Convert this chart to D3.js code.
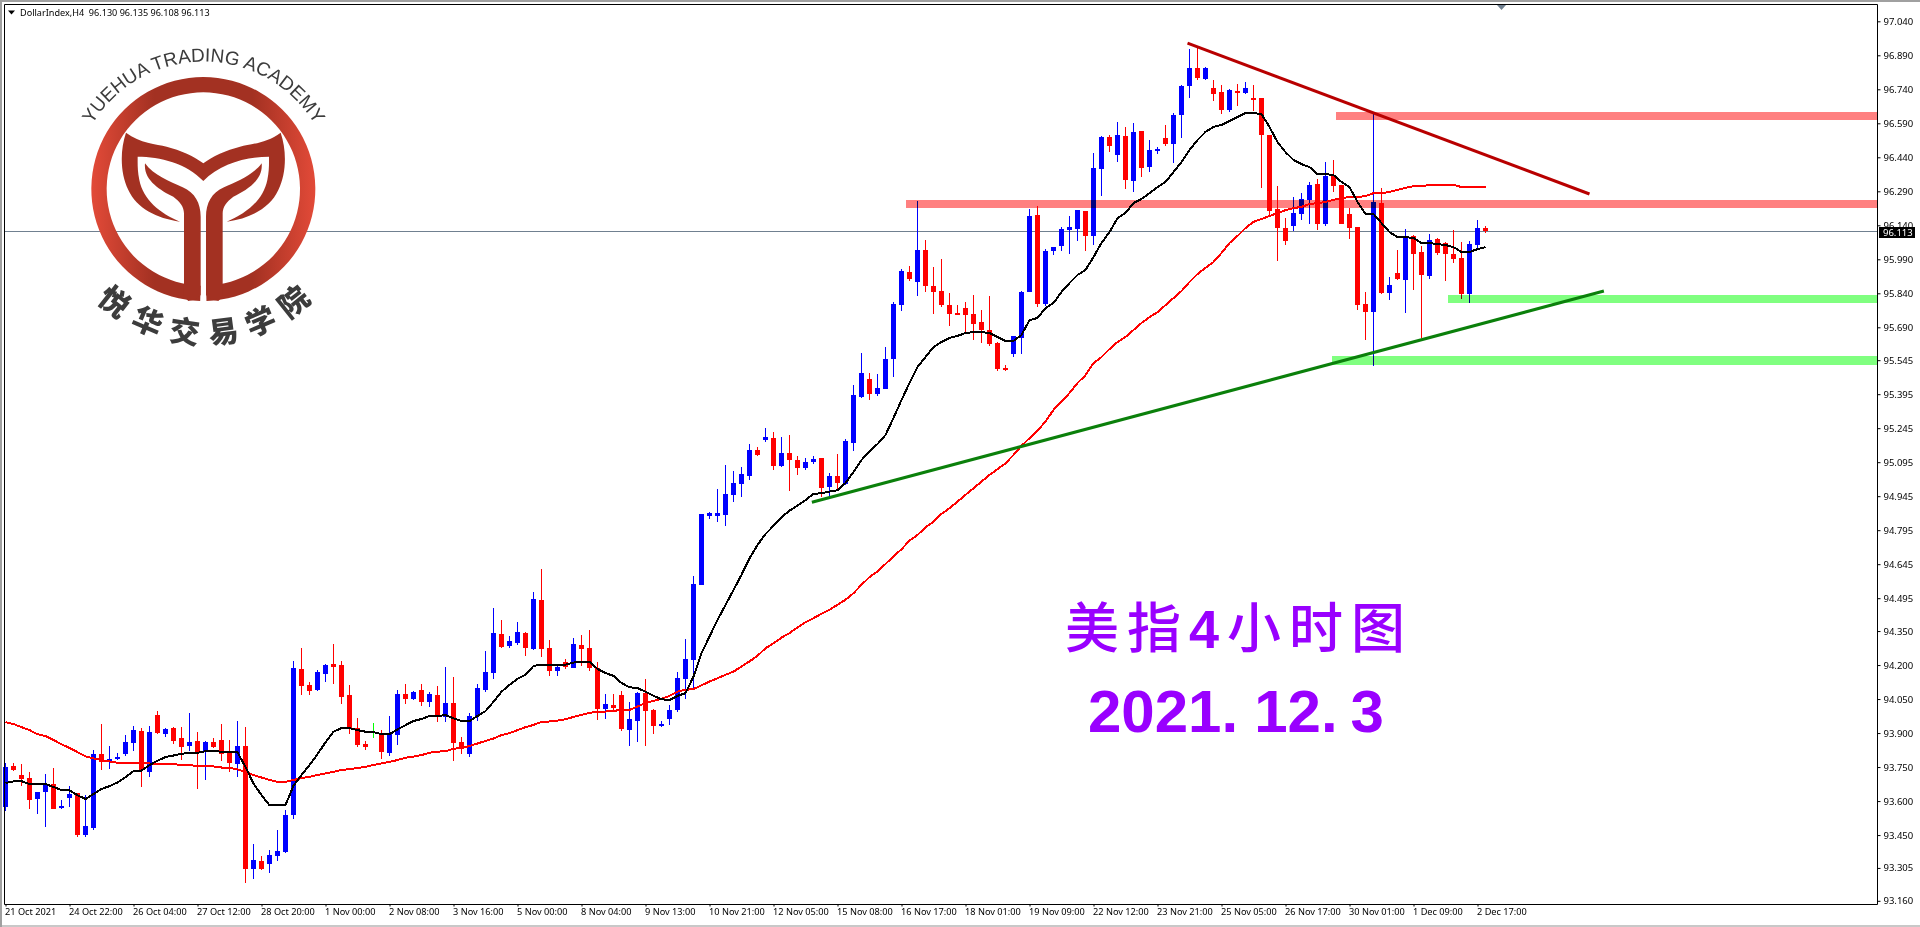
<!DOCTYPE html>
<html><head><meta charset="utf-8">
<script src="https://cdn.jsdelivr.net/npm/d3@7"></script>
<style>
html,body{margin:0;padding:0;background:#fff;overflow:hidden}
svg{display:block;background:#fff;isolation:isolate}
.tick text,.lbl{font-family:"Noto Sans","Open Sans",sans-serif;font-size:9.5px;fill:#000}
.xt .tick text{font-size:9.2px}
.lbl.hd{font-size:9.1px}
</style></head><body>
<svg id="c" width="1920" height="927"></svg>
<script>
const open=[
93.575,93.754,93.715,93.701,93.609,93.640,93.675,93.569,93.613,93.635,
93.450,93.481,93.807,93.772,93.785,93.807,93.856,93.909,93.728,93.979,
93.895,93.922,93.878,93.843,93.865,93.820,93.860,93.869,93.812,93.763,
93.843,93.300,93.335,93.322,93.357,93.375,93.538,94.182,94.112,94.090,
94.160,94.204,94.200,94.067,93.922,93.851,93.904,93.895,93.812,93.891,
94.072,94.050,94.090,94.037,94.067,93.970,94.032,93.860,93.807,93.975,
94.090,94.165,94.337,94.285,94.298,94.342,94.271,94.487,94.276,94.174,
94.214,94.188,94.289,94.276,94.188,94.007,94.024,94.069,93.914,93.954,
94.077,94.002,93.932,93.963,94.002,94.139,94.223,94.554,94.857,94.857,
94.862,94.950,94.999,95.034,95.148,95.193,95.201,95.078,95.135,95.104,
95.069,95.096,95.113,94.985,95.034,94.999,95.180,95.383,95.462,95.396,
95.418,95.551,95.789,95.935,95.890,96.031,95.873,95.851,95.789,95.754,
95.776,95.749,95.714,95.679,95.621,95.511,95.573,95.643,95.846,96.186,
95.793,96.027,96.049,96.120,96.124,96.203,96.093,96.389,96.530,96.450,
96.534,96.336,96.556,96.398,96.473,96.525,96.499,96.627,96.755,96.834,
96.786,96.746,96.729,96.649,96.733,96.724,96.702,96.702,96.539,96.213,
96.129,96.138,96.191,96.252,96.323,96.146,96.363,96.318,96.191,96.133,
95.794,95.758,96.239,95.842,95.930,95.900,96.094,96.023,95.917,96.080,
96.063,96.014,95.997,95.838,96.054,96.130];
const close=[
93.750,93.737,93.697,93.604,93.640,93.675,93.565,93.578,93.631,93.450,
93.490,93.807,93.772,93.785,93.794,93.860,93.913,93.737,93.904,93.900,
93.918,93.865,93.838,93.860,93.816,93.860,93.838,93.807,93.768,93.843,
93.300,93.340,93.300,93.362,93.379,93.538,94.187,94.107,94.085,94.169,
94.200,94.191,94.059,93.922,93.847,93.838,93.904,93.816,93.895,94.072,
94.050,94.081,94.037,94.072,93.979,94.032,93.856,93.834,93.975,94.098,
94.169,94.342,94.280,94.307,94.346,94.276,94.492,94.271,94.174,94.192,
94.192,94.293,94.271,94.188,94.007,94.029,94.011,93.919,93.963,94.077,
93.998,93.932,93.941,94.002,94.144,94.227,94.558,94.867,94.871,94.871,
94.954,95.003,95.043,95.148,95.126,95.206,95.078,95.135,95.104,95.069,
95.096,95.109,94.981,95.034,95.003,95.188,95.392,95.489,95.396,95.423,
95.550,95.793,95.939,95.904,96.031,95.873,95.846,95.789,95.749,95.749,
95.745,95.705,95.679,95.617,95.507,95.502,95.652,95.846,96.181,95.793,
96.027,96.045,96.124,96.133,96.208,96.093,96.393,96.530,96.490,96.539,
96.340,96.552,96.393,96.473,96.477,96.499,96.627,96.755,96.834,96.790,
96.834,96.720,96.649,96.737,96.724,96.746,96.693,96.539,96.204,96.129,
96.071,96.195,96.257,96.318,96.146,96.358,96.314,96.146,96.129,95.789,
95.758,96.243,95.842,95.877,95.904,96.089,96.014,95.922,96.076,96.019,
96.014,95.992,95.838,96.058,96.129,96.113];
const high=[
93.768,93.768,93.763,93.728,93.640,93.719,93.746,93.604,93.666,93.635,
93.626,93.825,93.940,93.843,93.812,93.891,93.931,93.922,93.931,93.997,
93.922,93.926,93.926,93.988,93.904,93.865,93.878,93.940,93.869,93.953,
93.926,93.410,93.357,93.384,93.472,93.560,94.217,94.275,94.125,94.178,
94.204,94.292,94.217,94.112,93.966,93.865,93.944,93.913,93.975,94.090,
94.116,94.085,94.116,94.081,94.107,94.191,94.147,93.882,93.988,94.116,
94.261,94.452,94.399,94.329,94.390,94.346,94.523,94.624,94.311,94.201,
94.227,94.320,94.333,94.355,94.214,94.073,94.073,94.086,94.038,94.082,
94.139,94.007,93.954,94.024,94.170,94.316,94.593,94.867,94.875,94.977,
95.082,95.056,95.074,95.175,95.162,95.246,95.228,95.206,95.215,95.122,
95.113,95.122,95.113,95.047,95.131,95.197,95.436,95.577,95.489,95.484,
95.603,95.802,95.948,95.961,96.248,96.076,95.957,95.992,95.842,95.789,
95.802,95.833,95.767,95.829,95.626,95.524,95.652,95.851,96.212,96.226,
96.036,96.045,96.133,96.181,96.208,96.203,96.459,96.534,96.539,96.596,
96.574,96.592,96.556,96.517,96.486,96.583,96.636,96.759,96.918,96.927,
96.839,96.782,96.759,96.742,96.764,96.773,96.759,96.702,96.539,96.314,
96.173,96.266,96.283,96.332,96.345,96.420,96.429,96.318,96.217,96.133,
95.847,96.632,96.305,95.913,96.032,96.124,96.098,96.049,96.102,96.085,
96.067,96.120,96.067,96.071,96.164,96.135];
const low=[
93.556,93.732,93.666,93.565,93.543,93.485,93.565,93.565,93.574,93.441,
93.441,93.472,93.737,93.741,93.781,93.798,93.820,93.662,93.706,93.895,
93.882,93.851,93.781,93.820,93.653,93.693,93.834,93.776,93.728,93.706,
93.238,93.256,93.296,93.282,93.335,93.371,93.521,94.067,94.067,94.085,
94.125,94.116,94.028,93.895,93.838,93.825,93.878,93.785,93.798,93.847,
94.028,94.045,94.019,94.015,93.948,93.948,93.776,93.807,93.794,93.953,
94.081,94.139,94.276,94.276,94.289,94.240,94.267,94.236,94.152,94.152,
94.183,94.188,94.196,94.174,93.958,93.963,93.994,93.910,93.844,93.861,
93.844,93.897,93.928,93.936,93.994,94.051,94.095,94.554,94.844,94.831,
94.813,94.919,94.941,95.016,95.122,95.184,95.060,95.074,94.968,95.038,
95.060,95.087,94.941,94.946,94.968,94.994,95.145,95.378,95.370,95.387,
95.418,95.471,95.763,95.895,95.829,95.846,95.749,95.780,95.696,95.749,
95.665,95.635,95.621,95.608,95.498,95.498,95.560,95.573,95.846,95.780,
95.785,96.009,96.027,96.014,96.071,96.027,96.054,96.270,96.464,96.420,
96.301,96.287,96.353,96.375,96.455,96.490,96.415,96.525,96.702,96.781,
96.781,96.689,96.632,96.640,96.667,96.720,96.645,96.305,96.182,95.983,
96.054,96.116,96.164,96.146,96.120,96.138,96.288,96.146,96.080,95.767,
95.635,95.520,95.838,95.811,95.900,95.754,95.855,95.644,95.904,96.010,
95.895,95.975,95.816,95.798,96.036,96.108];
const maFast=[
93.679,93.687,93.688,93.675,93.675,93.675,93.662,93.649,93.647,93.626,
93.609,93.631,93.653,93.666,93.682,93.706,93.732,93.734,93.759,93.778,
93.794,93.801,93.809,93.812,93.813,93.820,93.820,93.818,93.816,93.816,
93.750,93.678,93.626,93.582,93.582,93.582,93.668,93.715,93.759,93.807,
93.859,93.906,93.922,93.922,93.913,93.906,93.904,93.895,93.895,93.916,
93.935,93.953,93.962,93.975,93.975,93.979,93.965,93.953,93.953,93.975,
93.997,94.038,94.082,94.113,94.139,94.157,94.196,94.202,94.202,94.202,
94.202,94.211,94.215,94.214,94.183,94.165,94.152,94.121,94.102,94.099,
94.082,94.064,94.049,94.046,94.064,94.076,94.149,94.252,94.326,94.399,
94.465,94.531,94.598,94.671,94.730,94.778,94.814,94.852,94.881,94.903,
94.928,94.955,94.958,94.965,94.971,95.003,95.052,95.104,95.144,95.175,
95.215,95.290,95.369,95.444,95.515,95.559,95.603,95.625,95.643,95.652,
95.665,95.669,95.669,95.665,95.647,95.630,95.630,95.656,95.722,95.731,
95.775,95.797,95.846,95.885,95.921,95.943,96.000,96.062,96.110,96.172,
96.194,96.238,96.256,96.282,96.309,96.331,96.375,96.419,96.472,96.516,
96.552,96.574,96.583,96.600,96.618,96.635,96.635,96.631,96.574,96.507,
96.463,96.428,96.410,96.397,96.366,96.366,96.362,96.331,96.309,96.243,
96.190,96.190,96.150,96.110,96.088,96.088,96.084,96.062,96.062,96.057,
96.053,96.044,96.022,96.022,96.035,96.044];
const maSlow=[
93.948,93.940,93.926,93.913,93.895,93.887,93.869,93.851,93.834,93.816,
93.797,93.788,93.781,93.775,93.769,93.768,93.768,93.768,93.766,93.763,
93.763,93.763,93.759,93.759,93.754,93.754,93.753,93.748,93.746,93.740,
93.728,93.715,93.704,93.693,93.685,93.685,93.693,93.701,93.707,93.715,
93.722,93.729,93.737,93.741,93.746,93.751,93.759,93.766,93.773,93.781,
93.791,93.796,93.803,93.813,93.818,93.820,93.831,93.834,93.843,93.854,
93.865,93.876,93.891,93.900,93.913,93.926,93.936,93.949,93.951,93.955,
93.961,93.971,93.980,93.989,93.994,93.995,93.998,94.002,94.002,94.017,
94.032,94.042,94.051,94.064,94.083,94.091,94.094,94.111,94.127,94.142,
94.157,94.171,94.194,94.216,94.241,94.274,94.296,94.321,94.341,94.366,
94.389,94.407,94.426,94.444,94.466,94.488,94.517,94.554,94.588,94.613,
94.646,94.679,94.711,94.749,94.774,94.807,94.833,94.867,94.892,94.921,
94.951,94.980,95.009,95.039,95.064,95.090,95.127,95.167,95.201,95.234,
95.274,95.326,95.362,95.400,95.444,95.479,95.532,95.559,95.594,95.625,
95.647,95.678,95.709,95.735,95.757,95.788,95.819,95.850,95.890,95.925,
95.952,95.978,96.018,96.062,96.093,96.128,96.155,96.168,96.181,96.194,
96.207,96.216,96.221,96.234,96.238,96.243,96.252,96.260,96.265,96.265,
96.269,96.282,96.282,96.287,96.296,96.305,96.313,96.313,96.318,96.318,
96.318,96.318,96.309,96.309,96.309,96.309];
const priceTicks=[97.040,96.890,96.740,96.590,96.440,96.290,96.140,95.990,95.840,95.690,95.545,95.395,95.245,95.095,94.945,94.795,94.645,94.495,94.350,94.200,94.050,93.900,93.750,93.600,93.450,93.305,93.160];
const timeLabels=["21 Oct 2021","24 Oct 22:00","26 Oct 04:00","27 Oct 12:00","28 Oct 20:00","1 Nov 00:00","2 Nov 08:00","3 Nov 16:00","5 Nov 00:00","8 Nov 04:00","9 Nov 13:00","10 Nov 21:00","12 Nov 05:00","15 Nov 08:00","16 Nov 17:00","18 Nov 01:00","19 Nov 09:00","22 Nov 12:00","23 Nov 21:00","25 Nov 05:00","26 Nov 17:00","30 Nov 01:00","1 Dec 09:00","2 Dec 17:00"];
const zoneStart=[112.6,166.3,180.3,165.8];
const zoneTop=[96.252,96.640,95.832,95.563];
const zoneBottom=[96.216,96.605,95.797,95.524];
const zoneColor=["#ff8080","#ff8080","#80ff80","#80ff80"];
const trendBar=[[147.75,198.0],[100.8,199.8]];
const trendPrice=[[96.944,96.278],[94.918,95.850]];
const trendColor=["#b80000","#0b800b"];
const lastPrice=96.113;
const headerText="DollarIndex,H4  96.130 96.135 96.108 96.113";

const svg=d3.select("#c");
const x=d3.scaleLinear().domain([0,234]).range([5.5,1877.5]);
const y=d3.scaleLinear().domain([97.04,93.16]).range([21.3,900.8]);
const L=4.5,R=1877.5,T=4.5,B=904.5;
const bars=d3.range(open.length);
const col=i=>close[i]>open[i]?"#0000ff":close[i]<open[i]?"#ff0000":"#00ff00";

// window chrome
svg.append("rect").attr("x",0).attr("y",0).attr("width",1920).attr("height",2).attr("fill","#a0a0a0");
svg.append("rect").attr("x",0).attr("y",925).attr("width",1920).attr("height",2).attr("fill","#c8c8c8");
svg.append("rect").attr("x",0).attr("y",0).attr("width",2).attr("height",927).attr("fill","#a0a0a0");

// last price line
svg.append("line").attr("x1",L).attr("x2",R).attr("y1",Math.round(y(lastPrice))+.5).attr("y2",Math.round(y(lastPrice))+.5)
 .attr("stroke","#708090").attr("stroke-width",1);

// candles
const cg=svg.append("g").attr("shape-rendering","crispEdges");
cg.selectAll(".w").data(bars).join("rect").attr("class","w")
 .attr("x",i=>x(i)-.5).attr("width",1)
 .attr("y",i=>Math.round(y(high[i]))).attr("height",i=>Math.max(1,Math.round(y(low[i]))-Math.round(y(high[i]))))
 .attr("fill",col);
cg.selectAll(".b").data(bars.filter(i=>close[i]!==open[i])).join("rect").attr("class","b")
 .attr("x",i=>x(i)-2.5).attr("width",5)
 .attr("y",i=>Math.round(y(Math.max(open[i],close[i]))))
 .attr("height",i=>Math.max(2,Math.round(y(Math.min(open[i],close[i])))-Math.round(y(Math.max(open[i],close[i])))))
 .attr("fill",col);

// moving averages
const line=d3.line().x((d,i)=>x(i)).y(d=>y(d));
svg.append("path").attr("d",line(maSlow)).attr("fill","none").attr("stroke","#ff0000").attr("stroke-width",2).attr("stroke-linejoin","round").attr("shape-rendering","crispEdges");
svg.append("path").attr("d",line(maFast)).attr("fill","none").attr("stroke","#000").attr("stroke-width",2).attr("stroke-linejoin","round").attr("shape-rendering","crispEdges");

// zones
svg.selectAll(".z").data(zoneStart).join("rect").attr("class","z")
 .attr("x",d=>x(d)).attr("width",d=>R+.5-x(d))
 .attr("y",(d,i)=>y(zoneTop[i])).attr("height",(d,i)=>y(zoneBottom[i])-y(zoneTop[i]))
 .attr("fill",(d,i)=>zoneColor[i]).attr("shape-rendering","crispEdges")
 .style("mix-blend-mode","multiply");

// trend lines
svg.selectAll(".t").data(trendBar).join("line").attr("class","t")
 .attr("x1",d=>x(d[0])).attr("x2",d=>x(d[1]))
 .attr("y1",(d,i)=>y(trendPrice[i][0])).attr("y2",(d,i)=>y(trendPrice[i][1]))
 .attr("stroke",(d,i)=>trendColor[i]).attr("stroke-width",3);

// frame
svg.append("path").attr("d",`M${L},${B}V${T}H${R}V${B}H${L}`).attr("fill","none").attr("stroke","#000").attr("stroke-width",1);

// axes
const ya=svg.append("g").attr("transform",`translate(${R},0)`)
 .call(d3.axisRight(y).tickValues(priceTicks).tickFormat(d3.format(".3f")).tickSize(3).tickPadding(3));
ya.select(".domain").remove();
ya.selectAll("line").attr("stroke","#000");
const xa=svg.append("g").attr("class","xt").attr("transform",`translate(0,${B})`)
 .call(d3.axisBottom(x).tickValues(timeLabels.map((d,i)=>i*8)).tickFormat((d,i)=>timeLabels[i]).tickSize(2).tickPadding(2));
xa.select(".domain").remove();
xa.selectAll("line").attr("stroke","#000");
xa.selectAll("text").attr("text-anchor","start").attr("x",-1);

// last price tag
svg.append("rect").attr("x",1879).attr("y",227).attr("width",36).attr("height",11).attr("fill","#000");
svg.append("text").attr("x",1883).attr("y",236).attr("class","lbl").style("fill","#fff").text(d3.format(".3f")(lastPrice));

// header
svg.append("path").attr("d","M8,10.5H15L11.5,14.5Z").attr("fill","#000");
svg.append("text").attr("x",20).attr("y",16).attr("class","lbl hd").style("white-space","pre").text(headerText);
// shift marker
svg.append("path").attr("d","M1497,5H1506L1501.5,10Z").attr("fill","#708090");

// logo
const defs=svg.append("defs");
const grad=defs.append("linearGradient").attr("id","ring").attr("gradientUnits","userSpaceOnUse").attr("x1",-335).attr("x2",335).attr("y1",0).attr("y2",0);
[[0,"#e24a38"],[.28,"#a33122"],[.72,"#a33122"],[1,"#e24a38"]].forEach(s=>grad.append("stop").attr("offset",s[0]).attr("stop-color",s[1]));
const logo=svg.append("g").attr("transform","scale(0.33333)");
logo.append("path").attr("transform","translate(610,567)").attr("fill","url(#ring)")
 .attr("d",d3.arc().innerRadius(290).outerRadius(336).startAngle(Math.PI+.028).endAngle(3*Math.PI-.028)());
logo.append("path").attr("fill","#a33122").attr("d","M378,398 C420,430 470,432 500,440 C540,450 585,470 610,490 C635,470 680,450 720,440 C750,432 800,430 842,398 C860,450 860,520 835,570 C810,625 750,655 680,665 C740,640 790,600 802,540 C808,510 807,490 807,470 C740,470 660,490 610,543 C560,490 480,470 413,470 C413,490 412,510 418,540 C430,600 480,640 540,665 C470,655 410,625 385,570 C360,520 360,450 378,398 Z");
const stem="M435,490 C460,525 510,545 548,562 C585,578 602,610 602,650 L602,885 Q590,900 565,903 L552,890 L552,640 C552,620 540,605 520,590 C480,570 430,540 435,490 Z";
logo.append("path").attr("fill","#a33122").attr("d",stem);
logo.append("path").attr("fill","#a33122").attr("d",stem).attr("transform","translate(1220,0) scale(-1,1)");
defs.append("path").attr("id","topArc").attr("d","M 75.5,168.9 A 130,130 0 0 1 331.5,168.9");
svg.append("text").attr("font-family","'Liberation Sans',Arial,sans-serif").attr("font-size",19).attr("fill","#3c3c3c")
 .attr("text-anchor","middle").append("textPath").attr("href","#topArc").attr("startOffset","50%").text("YUEHUA TRADING ACADEMY");
Array.from("悦华交易学院").forEach((ch,i)=>{
 svg.append("text").attr("transform",`translate(204,189) rotate(${38.5-15.4*i}) translate(0,142)`)
  .attr("text-anchor","middle").attr("dominant-baseline","central")
  .attr("font-family","'Noto Sans CJK SC'").attr("font-weight",900).attr("font-size",30).attr("fill","#3c3c3c").text(ch);
});

// annotations
const t1=svg.append("text").attr("x",1065).attr("y",648).attr("font-size",54).attr("fill","#9900ff").style("letter-spacing","8px");
t1.append("tspan").attr("font-family","'Noto Sans CJK SC'").attr("font-weight",500).text("美指");
t1.append("tspan").attr("font-family","'Liberation Sans'").attr("font-weight",700).text("4");
t1.append("tspan").attr("font-family","'Noto Sans CJK SC'").attr("font-weight",500).text("小时图");
const t2=svg.append("text").attr("x",1088).attr("y",732).attr("font-size",60).attr("fill","#9900ff").attr("font-family","'Liberation Sans'").attr("font-weight",700);
t2.append("tspan").text("2021.");
t2.append("tspan").attr("dx",16).text("12.");
t2.append("tspan").attr("dx",13).text("3");
</script>
</body></html>
